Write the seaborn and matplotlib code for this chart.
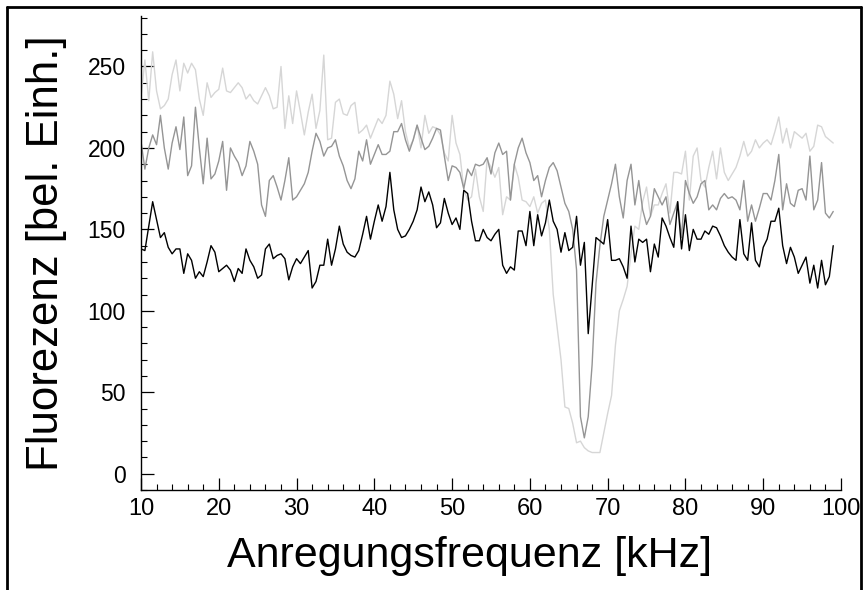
import numpy as np
import pandas as pd
import matplotlib
matplotlib.use("Agg")
import matplotlib.pyplot as plt
from matplotlib.lines import Line2D
from matplotlib.ticker import MultipleLocator
import seaborn as sns

# Excitation frequency grid start / step (kHz)
x_start = 10.0
x_step = 0.5

# Fluorescence series (arbitrary units)
black = [
    138, 137, 152, 167, 156, 145, 148, 139, 135, 138, 138, 123, 135, 131, 120, 124,
    121, 130, 140, 136, 124, 126, 128, 125, 118, 126, 123, 138, 131, 127, 120,
    122, 138, 141, 132, 134, 135, 132, 119, 127, 132, 129, 133, 137, 114, 118,
    128, 128, 144, 128, 138, 152, 141, 136, 134, 133, 137, 147, 158, 144, 155,
    165, 155, 164, 185, 162, 150, 145, 146, 150, 155, 162, 176, 167, 173, 165,
    151, 154, 169, 160, 153, 157, 150, 174, 172, 155, 143, 143, 150, 145, 143,
    147, 150, 128, 123, 127, 125, 149, 149, 140, 161, 140, 159, 146, 154, 168,
    155, 150, 136, 148, 137, 139, 158, 128, 142, 86, 115, 145, 143, 141, 156,
    131, 131, 132, 127, 120, 152, 130, 144, 142, 144, 124, 141, 133, 157, 152,
    145, 139, 167, 138, 159, 137, 150, 144, 144, 149, 147, 152, 151, 146, 140,
    136, 133, 131, 156, 135, 131, 154, 131, 127, 139, 144, 155, 155, 163, 140,
    129, 139, 133, 123, 128, 133, 117, 128, 114, 131, 116, 121, 140,
]

gray = [
    204, 187, 200, 208, 202, 220, 200, 187, 203, 213, 199, 219, 183, 189, 225, 200,
    178, 206, 181, 184, 192, 204, 174, 200, 195, 191, 183, 189, 204, 198, 190,
    165, 158, 180, 183, 176, 168, 180, 194, 168, 170, 174, 178, 185, 198, 209,
    204, 195, 200, 201, 205, 195, 189, 180, 175, 181, 198, 192, 205, 190, 196,
    202, 196, 196, 198, 210, 210, 215, 205, 198, 205, 214, 206, 199, 201, 206,
    212, 211, 195, 180, 189, 188, 185, 175, 187, 183, 190, 189, 190, 194, 184,
    197, 203, 196, 198, 168, 190, 200, 206, 197, 191, 180, 183, 170, 180, 188,
    191, 186, 176, 166, 161, 150, 125, 35, 22, 35, 67, 117, 140, 158, 168,
    178, 190, 170, 157, 180, 190, 165, 180, 162, 153, 158, 175, 170, 165, 170,
    153, 160, 167, 145, 180, 172, 166, 170, 178, 180, 162, 165, 162, 169, 172,
    169, 170, 168, 162, 180, 155, 165, 155, 163, 172, 172, 168, 180, 196, 162,
    178, 166, 164, 174, 175, 168, 195, 162, 168, 191, 160, 157, 161,
]

light = [
    231, 254, 229, 259, 235, 224, 226, 230, 245, 254, 235, 252, 246, 252, 248, 230,
    220, 240, 231, 234, 236, 249, 235, 234, 237, 240, 237, 230, 233, 229, 227,
    232, 237, 232, 224, 225, 250, 212, 232, 215, 235, 222, 208, 222, 233, 212,
    223, 257, 205, 206, 228, 230, 221, 220, 226, 228, 209, 211, 214, 206, 212,
    218, 215, 220, 241, 233, 218, 229, 210, 200, 205, 214, 200, 220, 209, 213,
    212, 208, 197, 192, 220, 203, 196, 175, 168, 170, 187, 170, 161, 193, 188,
    182, 188, 159, 170, 168, 190, 182, 168, 167, 164, 170, 160, 166, 168, 150,
    110, 90, 70, 41, 40, 31, 19, 20, 16, 14, 13, 13, 13, 25, 37,
    48, 79, 100, 107, 115, 135, 152, 150, 167, 176, 158, 165, 165, 172, 178,
    160, 185, 185, 184, 198, 168, 195, 200, 180, 176, 188, 198, 181, 200, 185,
    180, 184, 188, 195, 204, 195, 198, 205, 200, 203, 205, 202, 210, 219, 203,
    212, 200, 210, 208, 206, 209, 198, 201, 214, 213, 207, 205, 203,
]

series_colors = {"light": "#d6d6d6", "gray": "#959595", "black": "#000000"}

frames = []
for name, vals in [("light", light), ("gray", gray), ("black", black)]:
    xs = x_start + x_step * np.arange(len(vals))
    frames.append(pd.DataFrame({"f": xs, "v": vals, "s": name}))
df = pd.concat(frames, ignore_index=True)

sns.set_style("ticks")
plt.rcParams["font.family"] = ["Liberation Sans", "DejaVu Sans"]
plt.rcParams["xtick.direction"] = "in"
plt.rcParams["ytick.direction"] = "in"
plt.rcParams["text.color"] = "black"
plt.rcParams["axes.labelcolor"] = "black"
plt.rcParams["xtick.color"] = "black"
plt.rcParams["ytick.color"] = "black"

fig = plt.figure(figsize=(8.65, 5.90), dpi=100)
ax = fig.add_axes([141 / 865, 1 - 490 / 590, 700 / 865, (490 - 16) / 590])

for name in ["light", "gray", "black"]:
    sub = df[df["s"] == name]
    sns.lineplot(data=sub, x="f", y="v", color=series_colors[name], lw=1.0,
                 estimator=None, sort=False, ax=ax, legend=False)

ax.set_xlim(10, 100)
ax.set_ylim(-10, 281)
ax.xaxis.set_major_locator(MultipleLocator(10))
ax.xaxis.set_minor_locator(MultipleLocator(2))
ax.set_yticks([0, 50, 100, 150, 200, 250])
ax.yaxis.set_minor_locator(MultipleLocator(10))

sns.despine(ax=ax)
for sp in ["left", "bottom"]:
    ax.spines[sp].set_linewidth(1.0)
    ax.spines[sp].set_color("black")

ax.tick_params(axis="both", which="major", direction="in", length=9, width=0.9,
               color="black", labelcolor="black")
ax.tick_params(axis="both", which="minor", direction="in", length=4.5, width=0.8,
               color="black")
ax.tick_params(axis="x", which="major", labelsize=17, pad=6)
ax.tick_params(axis="y", which="major", labelsize=16.5, pad=11)

ax.set_xlabel("Anregungsfrequenz [kHz]", fontsize=31, color="black")
ax.set_ylabel("Fluorezenz [bel. Einh.]", fontsize=31.5, color="black")
ax.xaxis.set_label_coords(0.47, -0.097)
ax.yaxis.set_label_coords(-0.106, 0.5)

# frame around the figure (left, top, right)
fig.add_artist(Line2D([7 / 865, 7 / 865], [0, 1 - 7 / 590], color="black", lw=2,
                      transform=fig.transFigure))
fig.add_artist(Line2D([7 / 865, 861 / 865], [1 - 7 / 590, 1 - 7 / 590], color="black",
                      lw=2, transform=fig.transFigure))
fig.add_artist(Line2D([861 / 865, 861 / 865], [0, 1 - 7 / 590], color="black", lw=2,
                      transform=fig.transFigure))

fig.savefig("out.png", dpi=100)
